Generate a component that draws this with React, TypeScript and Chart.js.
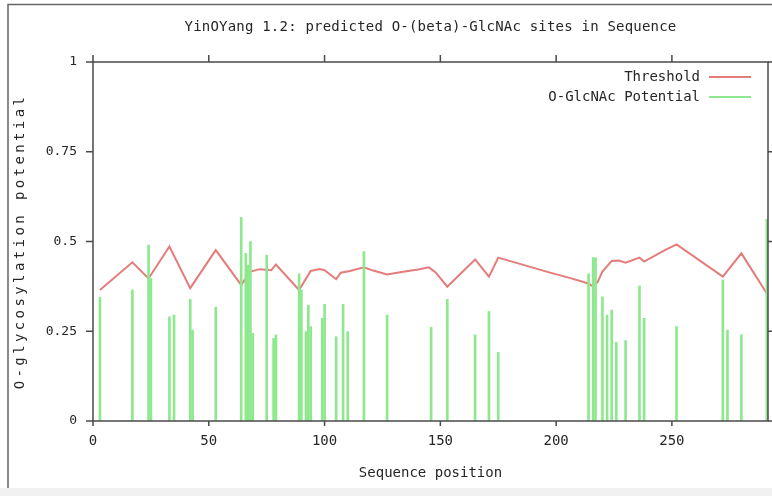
import React, { useEffect, useRef } from "react";
import { Chart, registerables } from "chart.js";

Chart.register(...registerables);

const chartTitle = "YinOYang 1.2: predicted O-(beta)-GlcNAc sites in Sequence";
const xAxisTitle = "Sequence position";
const yAxisTitle = "O-glycosylation potential";
const legendLabels = ["Threshold", "O-GlcNAc Potential"];

const sitePositions = [
  3, 17, 24, 25, 33, 35, 42, 43, 53, 64, 66, 67, 68, 69, 75, 78, 79, 89, 90, 92,
  93, 94, 99, 100, 105, 108, 110, 117, 127, 146, 153, 165, 171, 175, 214, 216,
  217, 220, 222, 224, 226, 230, 236, 238, 252, 272, 274, 280, 291,
];
const sitePotentials = [
  0.345, 0.365, 0.49, 0.397, 0.29, 0.295, 0.339, 0.253, 0.317, 0.567, 0.467,
  0.434, 0.5, 0.244, 0.462, 0.23, 0.24, 0.41, 0.365, 0.249, 0.323, 0.263, 0.286,
  0.325, 0.235, 0.325, 0.249, 0.472, 0.295, 0.261, 0.339, 0.24, 0.305, 0.191,
  0.41, 0.455, 0.455, 0.346, 0.295, 0.309, 0.219, 0.224, 0.376, 0.286, 0.263,
  0.393, 0.253, 0.24, 0.562,
];

const thresholdPositions = [
  3, 17, 24, 33, 42, 53, 64, 68, 72, 77, 79, 89, 94, 98, 100, 105, 107, 111, 117,
  121, 127, 134, 141, 145, 148, 153, 165, 171, 175, 197, 205, 214, 216, 218, 220,
  224, 227, 230, 236, 238, 247, 252, 272, 280, 291,
];
const thresholdValues = [
  0.365, 0.442, 0.397, 0.486, 0.37, 0.476, 0.379, 0.416, 0.423, 0.42, 0.436,
  0.365, 0.418, 0.423, 0.42, 0.395, 0.413, 0.418, 0.428, 0.419, 0.408, 0.416,
  0.423, 0.428, 0.414, 0.374, 0.45, 0.402, 0.455, 0.414, 0.4, 0.383, 0.374,
  0.388, 0.416, 0.446, 0.447, 0.441, 0.455, 0.444, 0.476, 0.492, 0.402, 0.467,
  0.355,
];

const xTickValues = [0, 50, 100, 150, 200, 250];
const xTickLabels = ["0", "50", "100", "150", "200", "250"];
const yTickValues = [0, 0.25, 0.5, 0.75, 1];
const yTickLabels = ["0", "0.25", "0.5", "0.75", "1"];
const X_MIN = 0;
const X_MAX = 291.5;
const Y_MIN = 0;
const Y_MAX = 1;

const RED = "rgb(228,124,124)";
const GREEN = "rgb(142,232,142)";
const TEXT = "#262626";
const AXIS = "#4a4a4a";
const FAMILY = '"DejaVu Sans Mono", "Liberation Mono", monospace';

const decorPlugin = {
  id: "decor",
  beforeDraw(chart: any) {
    const ctx = chart.ctx;
    ctx.save();
    ctx.fillStyle = "#ffffff";
    ctx.fillRect(0, 0, chart.width, chart.height);
    ctx.fillStyle = "#f1f1f1";
    ctx.fillRect(0, 488, chart.width, chart.height - 488);
    ctx.strokeStyle = "#666";
    ctx.lineWidth = 1.5;
    ctx.beginPath();
    ctx.moveTo(8, 488);
    ctx.lineTo(8, 4.5);
    ctx.lineTo(chart.width, 4.5);
    ctx.stroke();
    ctx.restore();
  },
  afterDraw(chart: any) {
    const { ctx, chartArea: a, scales } = chart;
    const xs = scales.x;
    const ys = scales.y;
    ctx.save();
    ctx.strokeStyle = AXIS;
    ctx.lineWidth = 1.5;
    ctx.strokeRect(a.left, a.top, a.right - a.left, a.bottom - a.top);
    ctx.beginPath();
    xTickValues.forEach((v) => {
      const px = xs.getPixelForValue(v);
      ctx.moveTo(px, a.bottom);
      ctx.lineTo(px, a.bottom + 5);
      ctx.moveTo(px, a.top);
      ctx.lineTo(px, a.top - 7);
    });
    yTickValues.forEach((v) => {
      const py = ys.getPixelForValue(v);
      ctx.moveTo(a.left - 7, py);
      ctx.lineTo(a.left, py);
      ctx.moveTo(a.right, py);
      ctx.lineTo(a.right + 7, py);
    });
    ctx.stroke();

    ctx.fillStyle = TEXT;
    ctx.font = `14px ${FAMILY}`;
    ctx.textAlign = "center";
    ctx.textBaseline = "middle";
    const cx = (a.left + a.right) / 2;
    ctx.save();
    (ctx as any).letterSpacing = "0.2px";
    ctx.fillText(chartTitle, cx, 27);
    ctx.restore();
    ctx.fillText(xAxisTitle, cx, 473);

    ctx.save();
    ctx.translate(20, (a.top + a.bottom) / 2);
    ctx.rotate(-Math.PI / 2);
    (ctx as any).letterSpacing = "3.4px";
    ctx.fillText(yAxisTitle, 0, 0);
    ctx.restore();

    const legendColors = [RED, GREEN];
    ctx.textAlign = "right";
    legendLabels.forEach((lab, i) => {
      const y = 77 + i * 20;
      ctx.fillStyle = TEXT;
      ctx.fillText(lab, 700, y);
      ctx.strokeStyle = legendColors[i];
      ctx.lineWidth = 2;
      ctx.beginPath();
      ctx.moveTo(709, y);
      ctx.lineTo(751, y);
      ctx.stroke();
    });
    ctx.restore();
  },
};

export default function App() {
  const ref = useRef<HTMLCanvasElement | null>(null);

  useEffect(() => {
    if (!ref.current) return;
    const chart = new Chart(ref.current, {
      type: "bar",
      data: {
        datasets: [
          {
            type: "bar",
            label: legendLabels[1],
            data: sitePositions.map((x, i) => ({ x, y: sitePotentials[i] })),
            backgroundColor: GREEN,
            borderWidth: 0,
            barThickness: 2,
          } as any,
          {
            type: "line",
            label: legendLabels[0],
            data: thresholdPositions.map((x, i) => ({ x, y: thresholdValues[i] })),
            borderColor: RED,
            borderWidth: 2,
            pointRadius: 0,
            tension: 0,
            fill: false,
          } as any,
        ],
      },
      options: {
        responsive: false,
        animation: false,
        layout: { padding: { top: 62, right: 4, left: 0, bottom: 0 } },
        plugins: {
          legend: { display: false },
          title: { display: false },
          tooltip: { enabled: false },
        },
        scales: {
          x: {
            type: "linear",
            min: X_MIN,
            max: X_MAX,
            offset: false,
            grid: { display: false, drawTicks: false },
            border: { display: false },
            afterBuildTicks: (s: any) => {
              s.ticks = xTickValues.map((v) => ({ value: v }));
            },
            afterFit: (s: any) => {
              s.height = 75;
            },
            ticks: {
              padding: 12,
              autoSkip: false,
              maxRotation: 0,
              color: TEXT,
              font: { family: FAMILY, size: 14 },
              callback: (_v: any, i: number) => xTickLabels[i],
            },
          },
          y: {
            type: "linear",
            min: Y_MIN,
            max: Y_MAX,
            grid: { display: false, drawTicks: false },
            border: { display: false },
            afterBuildTicks: (s: any) => {
              s.ticks = yTickValues.map((v) => ({ value: v }));
            },
            afterFit: (s: any) => {
              s.width = 93;
            },
            ticks: {
              padding: 16,
              color: TEXT,
              font: { family: FAMILY, size: 13 },
              callback: (_v: any, i: number) => yTickLabels[i],
            },
          },
        },
      } as any,
      plugins: [decorPlugin],
    });
    return () => chart.destroy();
  }, []);

  return (
    <div style={{ position: "fixed", left: 0, top: 0, width: 772, height: 496 }}>
      <canvas ref={ref} width={772} height={496} style={{ display: "block" }} />
    </div>
  );
}
